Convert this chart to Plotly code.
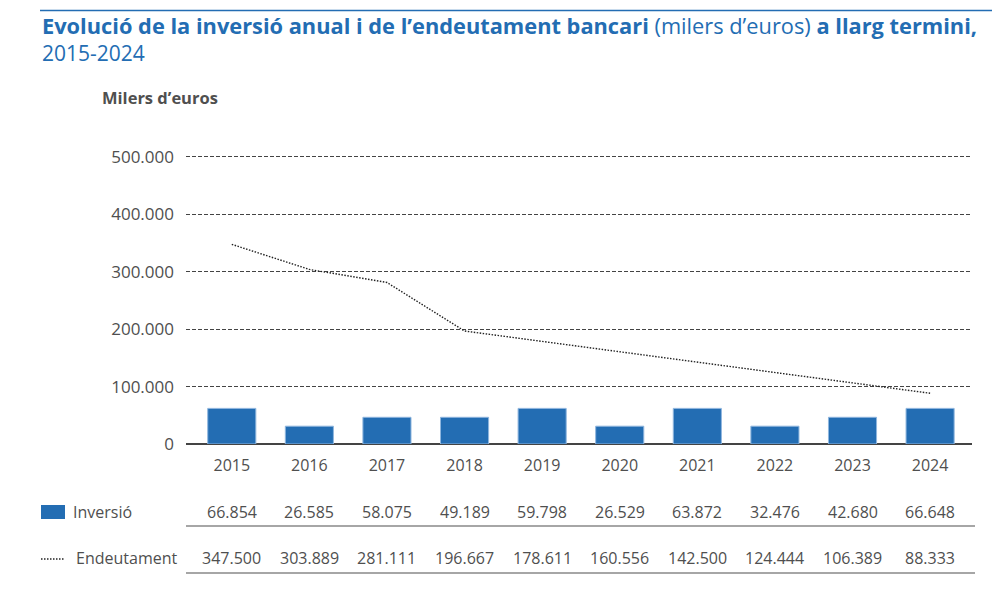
import plotly.graph_objects as go

# data
anys = ["2015", "2016", "2017", "2018", "2019", "2020", "2021", "2022", "2023", "2024"]
inversio_taula = ["66.854", "26.585", "58.075", "49.189", "59.798", "26.529", "63.872", "32.476", "42.680", "66.648"]
inversio_barres = [62000, 31000, 46500, 46500, 62000, 31000, 62000, 31000, 46500, 62000]  # heights as drawn
endeutament = [347500, 303889, 281111, 196667, 178611, 160556, 142500, 124444, 106389, 88333]
endeutament_taula = ["347.500", "303.889", "281.111", "196.667", "178.611", "160.556", "142.500", "124.444", "106.389", "88.333"]
ytick_vals = [0, 100000, 200000, 300000, 400000, 500000]
ytick_text = ["0", "100.000", "200.000", "300.000", "400.000", "500.000"]

W, H = 1000, 592
OFF = 8  # page body margin
BLUE = "#236db3"
GREY = "#4f4f4f"
DOT = "#222222"
FONT = "Open Sans"


def fx(x):
    return (x - OFF) / W


def fy(y):
    return 1 - (y - OFF) / H


fig = go.Figure()
fig.add_trace(go.Bar(x=list(range(10)), y=inversio_barres, width=0.62,
                     marker=dict(color=BLUE, line=dict(color="#8fb6de", width=1)),
                     hoverinfo="skip"))
fig.add_trace(go.Scatter(x=list(range(10)), y=endeutament, mode="lines",
                         line=dict(color=DOT, width=1.4, dash="1.5px,1.5px"),
                         hoverinfo="skip"))

# decoration layer over the whole page (page pixel units)
def deco(xs, ys, color, width, dash="solid"):
    fig.add_trace(go.Scatter(x=xs, y=ys, mode="lines", xaxis="x2", yaxis="y2",
                             line=dict(color=color, width=width, dash=dash),
                             hoverinfo="skip"))


deco([40, 997], [10.5, 10.5], BLUE, 1.5)
deco([186, 975], [526, 526], GREY, 1.2)
deco([186, 975], [573, 573], GREY, 1.2)
deco([41, 65], [559, 559], DOT, 1.4, "1.5px,1.5px")
deco([41, 65], [512, 512], BLUE, 14)

ann = [
    dict(x=fx(40), y=fy(26), text="<b>Evolució de la inversió anual i de l’endeutament bancari</b> (milers d’euros) <b>a llarg termini,</b>",
         font=dict(family=FONT, size=21.8, color=BLUE)),
    dict(x=fx(40), y=fy(53), text="2015-2024", font=dict(family=FONT, size=21, color=BLUE)),
    dict(x=fx(100), y=fy(98), text="<b>Milers d’euros</b>", font=dict(family=FONT, size=16.5, color=GREY)),
    dict(x=fx(71), y=fy(512), text="Inversió", font=dict(family=FONT, size=16, color=GREY)),
    dict(x=fx(74), y=fy(558), text="Endeutament", font=dict(family=FONT, size=16, color=GREY)),
]
for a in ann:
    a.update(xref="paper", yref="paper", xanchor="left", yanchor="middle", showarrow=False)
for i in range(len(anys)):
    ann.append(dict(x=i, y=fy(512), xref="x", yref="paper", yanchor="middle", showarrow=False,
                    text=inversio_taula[i], font=dict(family=FONT, size=16, color=GREY)))
    ann.append(dict(x=i, y=fy(558), xref="x", yref="paper", yanchor="middle", showarrow=False,
                    text=endeutament_taula[i], font=dict(family=FONT, size=16, color=GREY)))

fig.update_layout(
    width=W, height=H,
    margin=dict(l=0, r=0, t=0, b=0, autoexpand=False),
    plot_bgcolor="rgba(0,0,0,0)", paper_bgcolor="white",
    showlegend=False,
    annotations=ann,
    font=dict(family=FONT, color=GREY),
    xaxis=dict(domain=[fx(186), fx(972)], anchor="y", automargin=False,
               tickvals=list(range(10)), ticktext=anys, range=[-0.59, 9.54],
               showgrid=False, showline=False, zeroline=False, ticks="",
               ticklabelstandoff=10,
               tickfont=dict(family=FONT, size=16, color=GREY)),
    yaxis=dict(domain=[fy(444), fy(151)], anchor="x", automargin=False,
               tickvals=ytick_vals, ticktext=ytick_text, range=[0, 510000],
               showgrid=True, gridcolor="#444444", griddash="4px,2px", gridwidth=0.8,
               zeroline=True, zerolinecolor="#444444", zerolinewidth=1.5,
               ticks="", ticklabelstandoff=11,
               tickfont=dict(family=FONT, size=17, color=GREY)),
    xaxis2=dict(domain=[0, 1], anchor="y2", range=[OFF, OFF + W], visible=False,
                automargin=False, fixedrange=True),
    yaxis2=dict(domain=[0, 1], anchor="x2", range=[OFF + H, OFF], visible=False,
                automargin=False, fixedrange=True),
)

fig.write_html("out.html")
